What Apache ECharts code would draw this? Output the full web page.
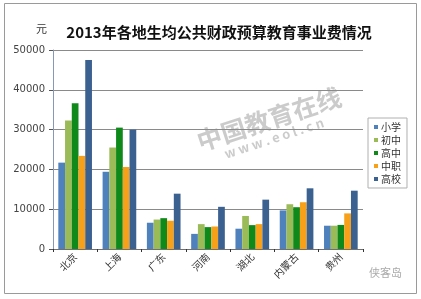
<!DOCTYPE html>
<html>
<head>
<meta charset="utf-8">
<script src="https://cdn.jsdelivr.net/npm/echarts@6/dist/echarts.min.js"></script>
<style>
html,body{margin:0;padding:0;background:#fff;}
#c{width:421px;height:299px;}
</style>
</head>
<body>
<div id="c"></div>
<script>
var categories = ['北京', '上海', '广东', '河南', '湖北', '内蒙古', '贵州'];
var primary = [21700, 19400, 6600, 3800, 5100, 9700, 5850];
var junior = [32300, 25500, 7400, 6250, 8300, 11250, 5850];
var senior = [36600, 30500, 7750, 5500, 6000, 10500, 6050];
var vocational = [23400, 20600, 7100, 5650, 6250, 11750, 8950];
var college = [47500, 30000, 13900, 10600, 12400, 15250, 14650];
var seriesNames = ['小学', '初中', '高中', '中职', '高校'];
var yTicks = [0, 10000, 20000, 30000, 40000, 50000];

var colors = ['#4f81bd', '#9bbb59', '#0f8a1a', '#f7a11a', '#3b6191'];
var values = [primary, junior, senior, vocational, college];
var chart = echarts.init(document.getElementById('c'));
var font = '"Noto Sans CJK SC", "DejaVu Sans", sans-serif';
chart.setOption({
  animation: false,
  backgroundColor: '#fff',
  color: colors,
  title: {
    text: '2013年各地生均公共财政预算教育事业费情况',
    left: 214, top: 20, textAlign: 'center',
    textStyle: {fontSize: 15, fontWeight: 'bold', color: '#111', fontFamily: font}
  },
  graphic: [
    {type: 'rect', shape: {x: 4.5, y: 3.5, width: 412, height: 290}, style: {fill: 'none', stroke: '#9a9a9a', lineWidth: 1}, z: -1},
    {type: 'text', left: 36, top: 23, style: {text: '元', fontSize: 11, fill: '#333', fontFamily: font}},
    {type: 'text', x: 269, y: 119, rotation: 18 * Math.PI / 180, z: 100,
      style: {text: '中国教育在线', fontSize: 25, fontWeight: 'bold', fill: 'rgba(140,140,140,0.45)', align: 'center', verticalAlign: 'middle', fontFamily: font}},
    {type: 'text', x: 274, y: 138, rotation: 18 * Math.PI / 180, z: 100,
      style: {text: 'w w w . e o l . c n', fontSize: 13, fontWeight: 'bold', fill: 'rgba(140,140,140,0.45)', align: 'center', verticalAlign: 'middle', fontFamily: font}},
    {type: 'text', left: 369, top: 267, z: 100, style: {text: '侠客岛', fontSize: 11, fill: '#aaa', fontFamily: font}}
  ],
  legend: {
    orient: 'vertical', left: 368, top: 118,
    data: seriesNames,
    itemWidth: 4, itemHeight: 4, itemGap: 3,
    padding: [4, 6, 4, 6],
    borderColor: '#b0b0b0', borderWidth: 1, backgroundColor: '#fff',
    textStyle: {fontSize: 10, color: '#333', fontFamily: font, padding: [0, 0, 0, -2]},
    icon: 'rect'
  },
  grid: {left: 53, right: 58, top: 50, bottom: 50, containLabel: false},
  xAxis: {
    type: 'category', data: categories,
    axisLine: {lineStyle: {color: '#707070'}},
    axisTick: {show: true, length: 3, lineStyle: {color: '#333'}},
    axisLabel: {rotate: 45, fontSize: 10, color: '#333', margin: 6, fontFamily: font}
  },
  yAxis: {
    type: 'value', min: yTicks[0], max: yTicks[yTicks.length - 1], interval: 10000,
    axisLine: {show: true, lineStyle: {color: '#8898b8'}},
    axisTick: {show: true, length: 4, lineStyle: {color: '#555'}},
    axisLabel: {fontSize: 10, color: '#444', margin: 8, fontFamily: '"DejaVu Sans", sans-serif', formatter: function (v) { return String(v); }},
    splitLine: {lineStyle: {color: '#8a8a8a', width: 1}}
  },
  series: seriesNames.map(function (n, i) {
    return {name: n, type: 'bar', data: values[i], barGap: '0%', barCategoryGap: '24%'};
  })
});
</script>
</body>
</html>
